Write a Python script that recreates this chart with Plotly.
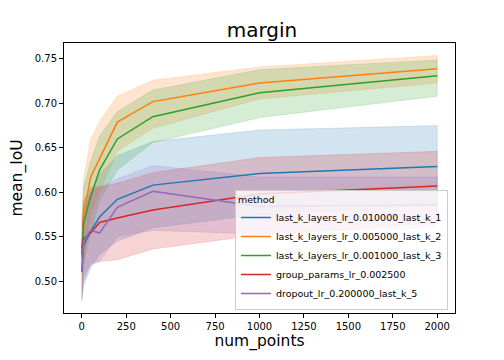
import plotly.graph_objects as go

num_points = [0, 10, 50, 100, 200, 400, 1000, 2000]

methods = [
    "last_k_layers_lr_0.010000_last_k_1",
    "last_k_layers_lr_0.005000_last_k_2",
    "last_k_layers_lr_0.001000_last_k_3",
    "group_params_lr_0.002500",
    "dropout_lr_0.200000_last_k_5",
]
colors = ["#1f77b4", "#ff7f0e", "#2ca02c", "#d62728", "#9467bd"]

# mean values
mean_k1 = [0.510, 0.540, 0.556, 0.572, 0.592, 0.608, 0.621, 0.629]
mean_k2 = [0.525, 0.575, 0.617, 0.638, 0.679, 0.702, 0.723, 0.739]
mean_k3 = [0.530, 0.565, 0.595, 0.625, 0.660, 0.685, 0.712, 0.731]
mean_gp = [0.537, 0.548, 0.554, 0.566, 0.571, 0.580, 0.598, 0.607]
mean_do = [0.510, 0.545, 0.557, 0.554, 0.583, 0.601, 0.584, 0.586]

# confidence band, upper
up_k1 = [0.545, 0.575, 0.600, 0.620, 0.641, 0.657, 0.670, 0.675]
up_k2 = [0.560, 0.615, 0.659, 0.680, 0.708, 0.726, 0.741, 0.754]
up_k3 = [0.565, 0.605, 0.635, 0.663, 0.691, 0.715, 0.738, 0.749]
up_gp = [0.560, 0.590, 0.605, 0.606, 0.610, 0.622, 0.639, 0.646]
up_do = [0.550, 0.585, 0.600, 0.605, 0.615, 0.630, 0.617, 0.617]

# confidence band, lower
lo_k1 = [0.478, 0.495, 0.515, 0.530, 0.545, 0.560, 0.575, 0.585]
lo_k2 = [0.485, 0.525, 0.575, 0.600, 0.646, 0.672, 0.705, 0.723]
lo_k3 = [0.490, 0.520, 0.555, 0.591, 0.625, 0.656, 0.684, 0.708]
lo_gp = [0.478, 0.505, 0.520, 0.522, 0.524, 0.536, 0.552, 0.565]
lo_do = [0.478, 0.500, 0.518, 0.522, 0.550, 0.557, 0.553, 0.560]

means = [mean_k1, mean_k2, mean_k3, mean_gp, mean_do]
uppers = [up_k1, up_k2, up_k3, up_gp, up_do]
lowers = [lo_k1, lo_k2, lo_k3, lo_gp, lo_do]


def rgba(hex_color, a):
    h = hex_color.lstrip("#")
    r, g, b = int(h[0:2], 16), int(h[2:4], 16), int(h[4:6], 16)
    return "rgba(%d,%d,%d,%s)" % (r, g, b, a)


fig = go.Figure()

# bands first
for name, c, up, lo in zip(methods, colors, uppers, lowers):
    fig.add_trace(go.Scatter(
        x=num_points + num_points[::-1],
        y=up + lo[::-1],
        fill="toself",
        fillcolor=rgba(c, 0.2),
        line=dict(color=rgba(c, 0.2), width=0.8),
        mode="lines",
        hoverinfo="skip",
        showlegend=False))

for name, c, m in zip(methods, colors, means):
    fig.add_trace(go.Scatter(
        x=num_points, y=m, mode="lines", name=name,
        line=dict(color=c, width=1.5)))

axis_common = dict(
    showline=True, linecolor="black", linewidth=1, mirror=True,
    ticks="outside", ticklen=4, tickcolor="black",
    showgrid=False, zeroline=False, automargin=False,
    tickfont=dict(size=10, color="black"),
)

# page has an 8px body margin, so the figure is 496x352 and shifted
fig.update_layout(
    width=496, height=352,
    margin=dict(l=56, r=49, t=35, b=47),
    plot_bgcolor="white", paper_bgcolor="white",
    font=dict(family="DejaVu Sans", color="black"),
    title=dict(text="margin", x=0.512, xanchor="center", y=0.938, yanchor="middle",
               font=dict(size=20, color="black")),
    xaxis=dict(axis_common, range=[-100, 2100], tickvals=[0, 250, 500, 750, 1000, 1250, 1500, 1750, 2000],
               title=dict(text="num_points", font=dict(size=15.5), standoff=3)),
    yaxis=dict(axis_common, range=[0.464, 0.768], tickvals=[0.50, 0.55, 0.60, 0.65, 0.70, 0.75],
               tickformat=".2f",
               title=dict(text="mean_IoU", font=dict(size=15.5), standoff=8)),
    legend=dict(
        title=dict(text="method", font=dict(size=9.5)),
        x=0.982, y=0.012, xanchor="right", yanchor="bottom",
        bgcolor="rgba(255,255,255,0.8)", bordercolor="#cccccc", borderwidth=1,
        font=dict(size=9.5), tracegroupgap=0, itemwidth=30,
    ),
)

fig.write_html("out.html")
